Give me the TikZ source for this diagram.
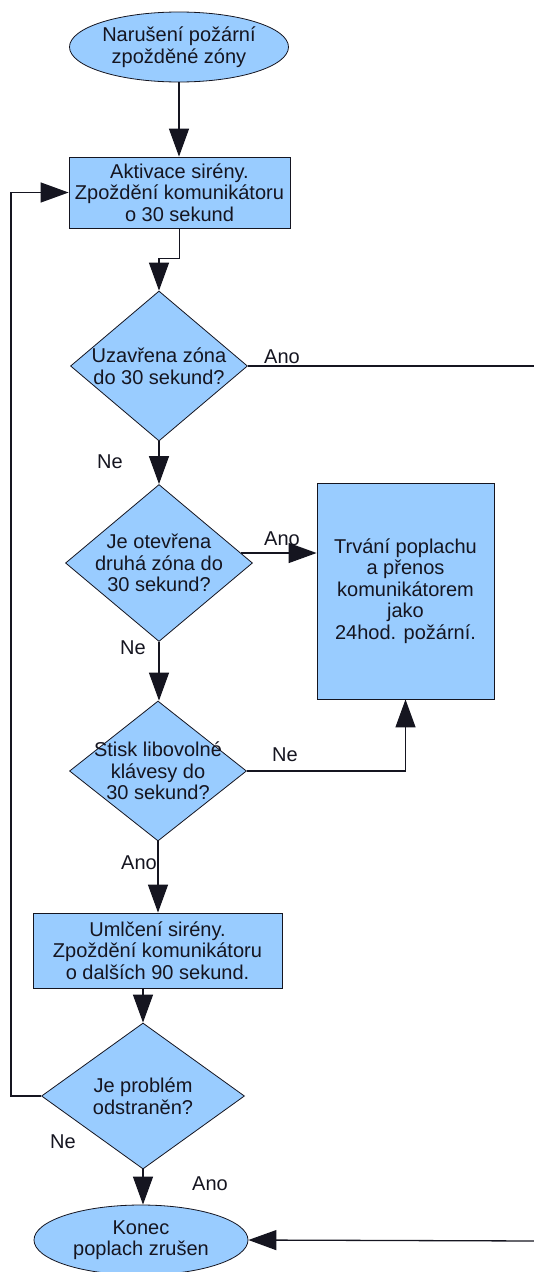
\documentclass[tikz,border=0pt]{standalone}
\usepackage{fontspec}
\setmainfont{Liberation Sans}
\usetikzlibrary{shapes.geometric,arrows.meta,calc}
\definecolor{boxfill}{HTML}{99CCFF}
\definecolor{edgecol}{HTML}{151520}
\begin{document}
\begin{tikzpicture}[x=1pt,y=-1pt,
  every node/.style={font=\fontsize{20}{21.5}\selectfont, text=edgecol},
  term/.style={ellipse, draw=edgecol, line width=0.8pt, fill=boxfill, inner sep=0pt, minimum width=219pt, minimum height=70pt, align=center},
  proc/.style={rectangle, draw=edgecol, line width=0.8pt, fill=boxfill, inner sep=0pt, align=center},
  dec/.style={diamond, draw=edgecol, line width=0.8pt, fill=boxfill, inner sep=0pt},
  dtext/.style={align=center, inner sep=0pt},
  conn/.style={line width=1.3pt, draw=edgecol},
  arr/.style={conn, -{Triangle[length=28pt,width=20pt]}},
  lbl/.style={inner sep=0pt}
]
\useasboundingbox (0,0) rectangle (533,1272);

% nodes
\node[term] (start) at (179,47) {Narušení požární\\zpožděné zóny};
\node[proc, minimum width=221pt, minimum height=71pt] (b1) at (179.5,192.5) {Aktivace sirény.\\Zpoždění komunikátoru\\o 30 sekund};
\node[dec, minimum width=177pt, minimum height=150pt, label={[dtext]center:{Uzavřena zóna\\do 30 sekund?}}] (d1) at (159,366) {};
\node[dec, minimum width=187pt, minimum height=157pt, label={[dtext]center:{Je otevřena\\druhá zóna do\\30 sekund?}}] (d2) at (159,563) {};
\node[proc, minimum width=177pt, minimum height=216pt] (alarm) at (405.5,591) {Trvání poplachu\\a přenos\\komunikátorem\\jako\\24hod. požární.};
\node[dec, minimum width=177pt, minimum height=140pt, label={[dtext]center:{Stisk libovolné\\klávesy do\\30 sekund?}}] (d3) at (158,771) {};
\node[proc, minimum width=249pt, minimum height=75pt] (b2) at (157.5,950.5) {Umlčení sirény.\\Zpoždění komunikátoru\\o dalších 90 sekund.};
\node[dec, minimum width=203pt, minimum height=146pt, label={[dtext]center:{Je problém\\odstraněn?}}] (d4) at (143,1096) {};
\node[term, minimum width=214pt] (end) at (141,1240) {Konec\\poplach zrušen};

% labels
\node[lbl] (l1) at (282,357) {Ano};
\node[lbl] (l2) at (110,462) {Ne};
\node[lbl] (l3) at (282,539) {Ano};
\node[lbl] (l4) at (133,648) {Ne};
\node[lbl] (l5) at (285,755) {Ne};
\node[lbl] (l6) at (139,863) {Ano};
\node[lbl] (l7) at (63,1142) {Ne};
\node[lbl] (l8) at (210,1184) {Ano};

% helper coordinates
\coordinate (a2) at ($(d2.east)+(-12,-10)$);
\coordinate (rt) at (540,366);
\coordinate (rb) at (540,1241);
\coordinate (fbl) at (11,1096);

% connectors
\draw[arr] (start.south) -- (start.south |- b1.north);
\draw[arr] (b1.south) -- ++(0,30) -| (d1.north);
\draw[arr] (d1.south) -- (d2.north);
\draw[conn] (d1.east) -- (rt) -- (rb);
\draw[arr] (rb) -- (end.east);
\draw[arr] (a2) -- (a2 -| alarm.west);
\draw[arr] (d2.south) -- (d2.south |- d3.north);
\draw[arr] (d3.east) -| (alarm.south);
\draw[arr] (d3.south) -- (d3.south |- b2.north);
\draw[arr] (b2.south -| d4.north) -- (d4.north);
\draw[arr] (d4.south) -- (d4.south |- end.north);
\draw[arr] (d4.west) -- (fbl) |- (b1.west);
\end{tikzpicture}
\end{document}
